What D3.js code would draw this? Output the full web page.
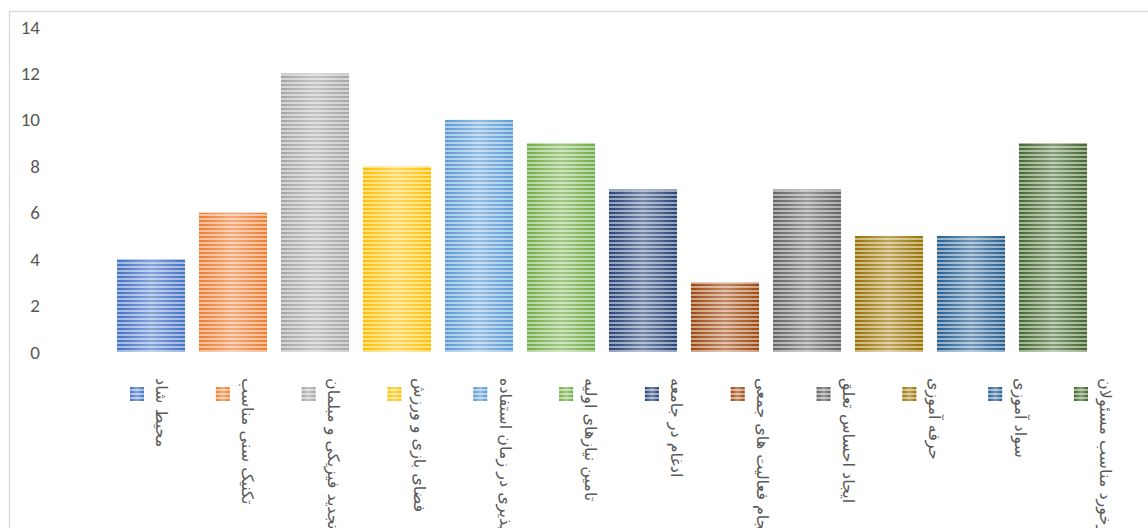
<!DOCTYPE html>
<html>
<head>
<meta charset="utf-8">
<script src="https://cdn.jsdelivr.net/npm/d3@7"></script>
<style>
  html, body { margin: 0; padding: 0; background: #fff; overflow: hidden; }
  svg { display: block; }
</style>
</head>
<body>
<svg id="chart" width="1148" height="528"></svg>
<script>
// data
var categories = [
  "محیط شاد",
  "تکنیک سنی مناسب",
  "تجدید فیزیکی و مبلمان",
  "فضای بازی و ورزش",
  "انعطاف پذیری در زمان استفاده",
  "تامین نیازهای اولیه",
  "ادغام در جامعه",
  "انجام فعالیت های جمعی",
  "ایجاد احساس تعلق",
  "حرفه آموزی",
  "سواد آموزی",
  "برخورد مناسب مسئولان"
];
var values = [4, 6, 12, 8, 10, 9, 7, 3, 7, 5, 5, 9];
var colors = ["#4472C4", "#ED7D31", "#A5A5A5", "#FFC000", "#5B9BD5", "#70AD47",
              "#264478", "#9E480E", "#636363", "#997300", "#255E91", "#43682B"];
var yTicks = [0, 2, 4, 6, 8, 10, 12, 14];

var svg = d3.select("#chart");
var defs = svg.append("defs");

// frame
svg.append("rect")
  .attr("x", 9.5).attr("y", 11.5)
  .attr("width", 1300).attr("height", 700)
  .attr("fill", "none").attr("stroke", "#d9d9d9").attr("stroke-width", 1.3);

// scales
var x = d3.scaleBand().domain(d3.range(categories.length))
  .range([110, 1094]).paddingInner(0.17).paddingOuter(0.085);
var y = d3.scaleLinear().domain([0, 14]).range([352, 27]);

// striped patterns, one per colour
colors.forEach(function(c, i) {
  var light = d3.interpolateRgb(c, "#ffffff")(0.5);
  var p = defs.append("pattern")
    .attr("id", "pat" + i)
    .attr("patternUnits", "userSpaceOnUse")
    .attr("width", 8).attr("height", 4);
  p.append("rect").attr("width", 8).attr("height", 4).attr("fill", light);
  p.append("rect").attr("width", 8).attr("height", 2).attr("fill", c);
});

// soft glow in the middle of each bar
var g = defs.append("linearGradient").attr("id", "glow")
  .attr("x1", "0").attr("x2", "1").attr("y1", "0").attr("y2", "0");
g.append("stop").attr("offset", "0%").attr("stop-color", "#fff").attr("stop-opacity", 0);
g.append("stop").attr("offset", "50%").attr("stop-color", "#fff").attr("stop-opacity", 0.35);
g.append("stop").attr("offset", "100%").attr("stop-color", "#fff").attr("stop-opacity", 0);

// y axis labels
var yAxis = d3.axisLeft(y).tickValues(yTicks).tickSize(0).tickPadding(0);
var ya = svg.append("g").attr("transform", "translate(40,0)").call(yAxis);
ya.select(".domain").remove();
ya.selectAll("text")
  .attr("fill", "#595959")
  .style("font-family", "Carlito, 'Liberation Sans', sans-serif")
  .style("font-size", "19px");

// bars
var bars = svg.append("g");
bars.selectAll("rect.bar").data(values).enter().append("rect")
  .attr("class", "bar")
  .attr("x", function(d, i) { return x(i); })
  .attr("width", x.bandwidth())
  .attr("y", function(d) { return y(d); })
  .attr("height", function(d) { return y(0) - y(d); })
  .attr("fill", function(d, i) { return "url(#pat" + i + ")"; });
bars.selectAll("rect.glow").data(values).enter().append("rect")
  .attr("class", "glow")
  .attr("x", function(d, i) { return x(i); })
  .attr("width", x.bandwidth())
  .attr("y", function(d) { return y(d); })
  .attr("height", function(d) { return y(0) - y(d); })
  .attr("fill", "url(#glow)");

// legend (rotated labels under the plot, clipped by the bottom edge like the original)
var legend = d3.scaleLinear().domain([0, categories.length - 1]).range([130, 1074]);
var items = svg.append("g").selectAll("g").data(categories).enter().append("g")
  .attr("transform", function(d, i) { return "translate(" + legend(i) + ",387)"; });
items.append("rect")
  .attr("width", 14).attr("height", 14)
  .attr("fill", function(d, i) { return "url(#pat" + i + ")"; });
items.append("rect")
  .attr("width", 14).attr("height", 14)
  .attr("fill", "url(#glow)");
items.append("text")
  .attr("transform", "translate(32,-9) rotate(90)")
  .attr("dy", "0.35em")
  .attr("fill", "#595959")
  .style("font-family", "'DejaVu Sans', sans-serif")
  .style("font-size", "16px")
  .text(function(d) { return d; });
</script>
</body>
</html>
